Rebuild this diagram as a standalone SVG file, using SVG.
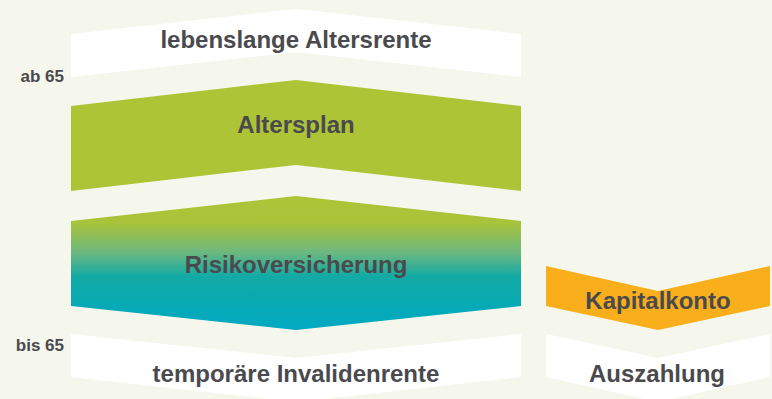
<svg xmlns="http://www.w3.org/2000/svg" width="772" height="399" viewBox="0 0 772 399">
<defs>
<style>
.t{font-family:"Liberation Sans",Arial,sans-serif;font-weight:bold;fill:#4a4a4e;text-anchor:middle;}
.big{font-size:24px;}
.small{font-size:17px;text-anchor:end;}
.white{fill:#ffffff;}
</style>
<linearGradient id="risk" gradientUnits="userSpaceOnUse" x1="0" y1="196" x2="0" y2="330">
<stop offset="0" stop-color="#adc437"/>
<stop offset="0.2" stop-color="#a9c33a"/>
<stop offset="0.42" stop-color="#6db87f"/>
<stop offset="0.6" stop-color="#12aaa5"/>
<stop offset="1" stop-color="#00a9c2"/>
</linearGradient>
</defs>
<rect width="772" height="399" fill="#f6f7ec"/>
<g id="lebenslange">
<polygon class="white" points="71,34 296,9 521,34 521,77 296,52 71,77"/>
<text class="t big" x="296" y="48">lebenslange Altersrente</text>
</g>
<g id="ab65"><text class="t small" x="64" y="82">ab 65</text></g>
<g id="altersplan">
<polygon fill="#adc437" points="71,106 296,80 521,106 521,191 296,165 71,191"/>
<text class="t big" x="296" y="133">Altersplan</text>
</g>
<g id="risiko">
<polygon fill="url(#risk)" points="71,221 296,196 521,221 521,306 296,330 71,306"/>
<text class="t big" x="296" y="273">Risikoversicherung</text>
</g>
<g id="kapitalkonto">
<polygon fill="#f9ae1b" points="546,266 658,291 770,266 770,306 658,330 546,306"/>
<text class="t big" x="658" y="309">Kapitalkonto</text>
</g>
<g id="bis65"><text class="t small" x="64" y="351">bis 65</text></g>
<g id="invalidenrente">
<polygon class="white" points="71,334 296,358 521,334 521,377 296,402 71,377"/>
<text class="t big" x="296" y="382">temporäre Invalidenrente</text>
</g>
<g id="auszahlung">
<polygon class="white" points="546,334 658,358 770,334 770,377 658,402 546,377"/>
<text class="t big" x="657" y="382">Auszahlung</text>
</g>
<g id="connectors"></g>
</svg>
